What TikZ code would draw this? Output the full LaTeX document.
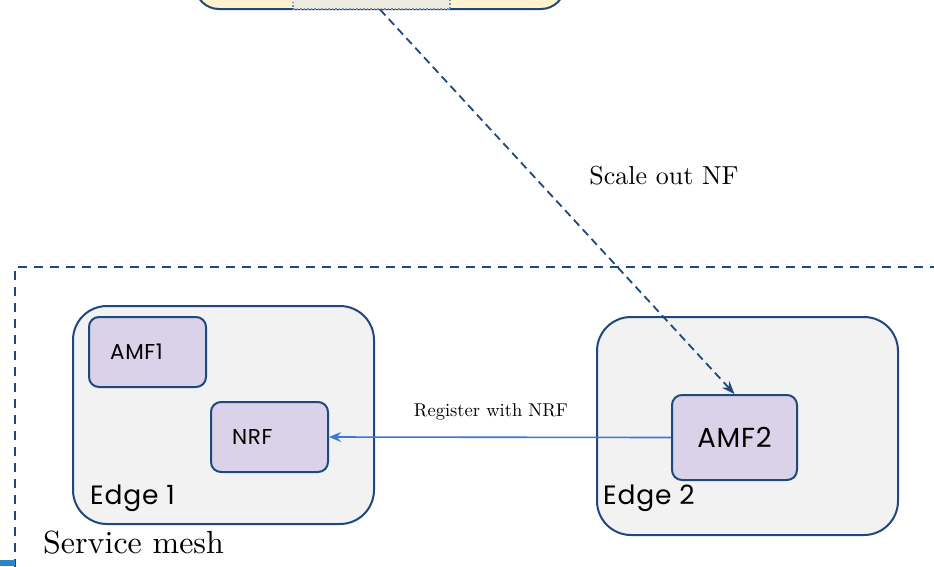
\documentclass[tikz,border=0pt]{standalone}
\usepackage{fontspec}
\setsansfont[LetterSpace=3]{Poppins}
\newfontfamily\cmten{lmroman10-regular.otf}
\usetikzlibrary{arrows.meta,calc}
\definecolor{edgeblue}{RGB}{31,73,125}
\definecolor{linkblue}{RGB}{60,120,216}
\definecolor{nfpurple}{RGB}{217,210,233}
\definecolor{zonegrey}{RGB}{242,242,242}
\definecolor{ctrlyellow}{RGB}{255,242,204}
\definecolor{ctrlgrey}{RGB}{238,236,225}
\definecolor{cornerblue}{RGB}{46,134,193}
\tikzset{
  zone/.style={draw=edgeblue, line width=2pt, fill=zonegrey, rounded corners=34pt},
  nfbox/.style={draw=edgeblue, line width=2pt, fill=nfpurple, rounded corners=10pt},
  nflabel/.style={font=\sffamily\fontsize{21.5}{24}\selectfont, anchor=west, inner sep=0pt},
  zonelabel/.style={font=\sffamily\fontsize{26.5}{29}\selectfont, anchor=west, inner sep=0pt},
  scaleline/.style={draw=edgeblue, line width=1.8pt, dash pattern=on 8pt off 5pt, -{Stealth[length=13pt,width=10pt]}},
  regline/.style={draw=linkblue, line width=1.6pt, -{Stealth[length=12pt,width=10pt]}},
}
\begin{document}
\begin{tikzpicture}[x=1pt,y=-1pt]
\useasboundingbox (0,0) rectangle (934,566);
\fill[white] (0,0) rectangle (934,566);

% control-plane box (mostly above the view)
\draw[draw=edgeblue, line width=2pt, fill=ctrlyellow, rounded corners=24pt]
  (195,-80) rectangle (565,9);
\node[draw=edgeblue!60, dotted, line width=1.5pt, fill=ctrlgrey, inner sep=0pt,
  minimum width=157pt, minimum height=60pt, anchor=south] (ctrl) at (371.5,9.5) {};
\coordinate (scalefrom) at (380,9.5);

% service mesh boundary
\draw[draw=edgeblue, line width=1.8pt, dash pattern=on 9pt off 7pt]
  (15,600) -- (15,267) -- (960,267);
\fill[cornerblue] (0,560) rectangle (15,566);

% edge zones
\node[zone, inner sep=0pt, minimum width=301pt, minimum height=218pt, anchor=north west] (edge1) at (72,305) {};
\node[zone, inner sep=0pt, minimum width=301pt, minimum height=218pt, anchor=north west] (edge2) at (596,316) {};
\node[zonelabel] (edge1lbl) at (90,498) {Edge 1};
\node[zonelabel] (edge2lbl) at (603,498) {Edge 2};

% network functions
\node[nfbox, inner sep=0pt, minimum width=117pt, minimum height=70pt, anchor=north west] (amf1) at (88,316) {};
\node[nflabel] (amf1lbl) at (110,352) {AMF1};
\node[nfbox, inner sep=0pt, minimum width=117pt, minimum height=70pt, anchor=north west] (nrf) at (210,401) {};
\node[nflabel] (nrflbl) at (232,437) {NRF};
\node[nfbox, inner sep=0pt, minimum width=125pt, minimum height=85pt, anchor=north west,
  font=\sffamily\fontsize{27.5}{30}\selectfont] (amf2) at (671,394) {AMF2};

% connectors
\draw[scaleline] (scalefrom) -- (amf2.north);
\node[font=\cmten\fontsize{26}{30}\selectfont] (scalelbl) at (664,176) {Scale out NF};
\draw[regline] (amf2.west) -- (nrf.east);
\node[font=\cmten\fontsize{18.5}{22}\selectfont] (reglbl) at (491,412) {Register with NRF};

\node[font=\cmten\fontsize{32}{36}\selectfont, anchor=west, inner sep=0pt] (meshlbl) at (43,543) {Service mesh};
\end{tikzpicture}
\end{document}
